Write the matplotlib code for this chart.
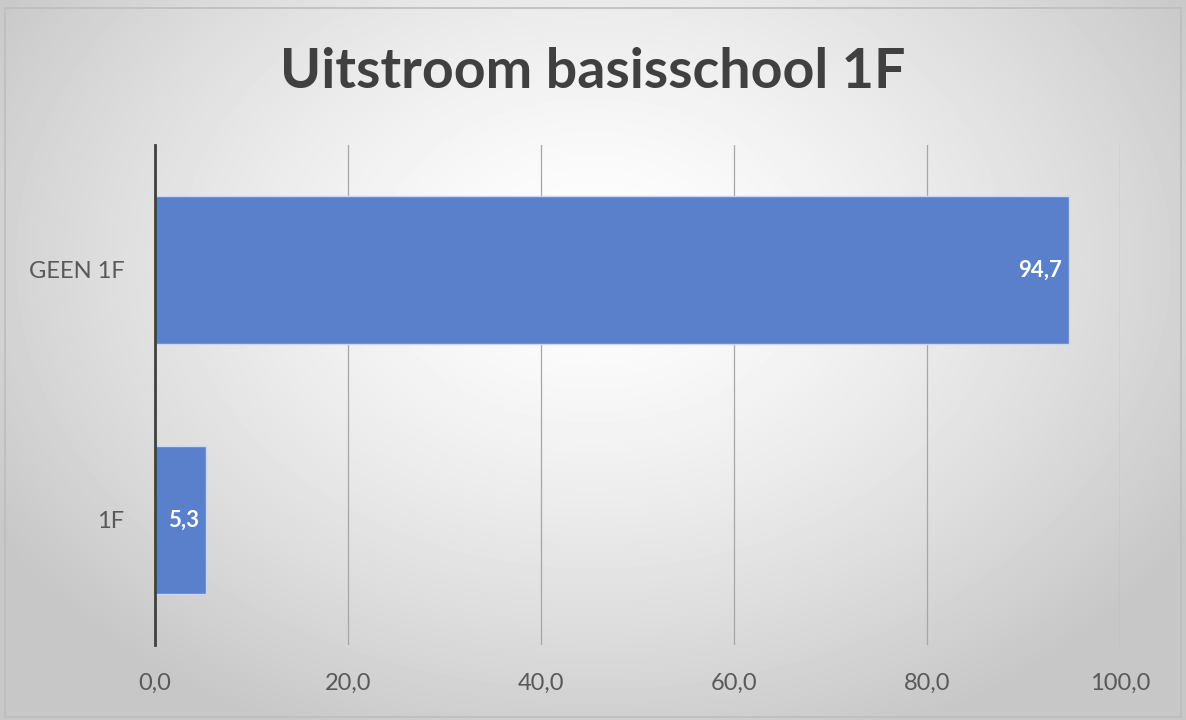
import numpy as np
import matplotlib.pyplot as plt
from matplotlib.patches import Rectangle

categories = ['1F', 'GEEN 1F']
values = [5.3, 94.7]
value_labels = ['5,3', '94,7']
xticks = [0, 20, 40, 60, 80, 100]
xtick_labels = ['0,0', '20,0', '40,0', '60,0', '80,0', '100,0']

plt.rcParams['font.family'] = ['Lato', 'DejaVu Sans']

fig = plt.figure(figsize=(11.86, 7.2), dpi=100)

# radial background gradient
bg = fig.add_axes([0, 0, 1, 1], zorder=-10)
yy, xx = np.mgrid[0:720, 0:1186]
r = np.sqrt(((xx - 593) / 700.0) ** 2 + ((yy - 260) / 520.0) ** 2)
shade = np.clip(1.0 - 0.22 * r ** 1.4, 0.78, 1.0)
bg.imshow(shade, cmap='gray', vmin=0, vmax=1, aspect='auto',
          extent=[0, 1, 0, 1], origin='upper')
bg.add_patch(Rectangle((0.004, 0.004), 0.992, 0.985, fill=False,
                       edgecolor='#bdbdbd', lw=1.2, transform=bg.transAxes))
bg.axis('off')

ax = fig.add_axes([0.1307, 0.1042, 0.8137, 0.6944])
ax.patch.set_alpha(0)

y = np.arange(len(categories))
bars = ax.barh(y, values, height=0.59, color='#5a7fcb',
               edgecolor='#c9d7ef', linewidth=1.0, zorder=3)

for yi, v, lab in zip(y, values, value_labels):
    ax.annotate(lab, (v, yi), xytext=(-5, 0), textcoords='offset points',
                ha='right', va='center', color='white', fontsize=16,
                fontweight='bold', zorder=4)

ax.set_xlim(0, 100)
ax.set_ylim(-0.5, 1.5)
ax.set_xticks(xticks)
ax.set_xticklabels(xtick_labels)
ax.set_yticks(y)
ax.set_yticklabels(categories)
ax.tick_params(axis='both', length=0, labelsize=17, labelcolor='#595959')
ax.tick_params(axis='x', pad=20)
ax.tick_params(axis='y', pad=22)

ax.grid(axis='x', color='#a6a6a6', lw=0.9, zorder=0)
ax.set_axisbelow(True)
for s in ['top', 'right', 'bottom']:
    ax.spines[s].set_visible(False)
ax.spines['left'].set_color('#404040')
ax.spines['left'].set_linewidth(2)
ax.spines['left'].set_zorder(5)

fig.text(0.5, 0.9, 'Uitstroom basisschool 1F', ha='center', va='center',
         fontsize=40, fontweight='bold', color='#404040')

fig.savefig('out.png', dpi=100)
